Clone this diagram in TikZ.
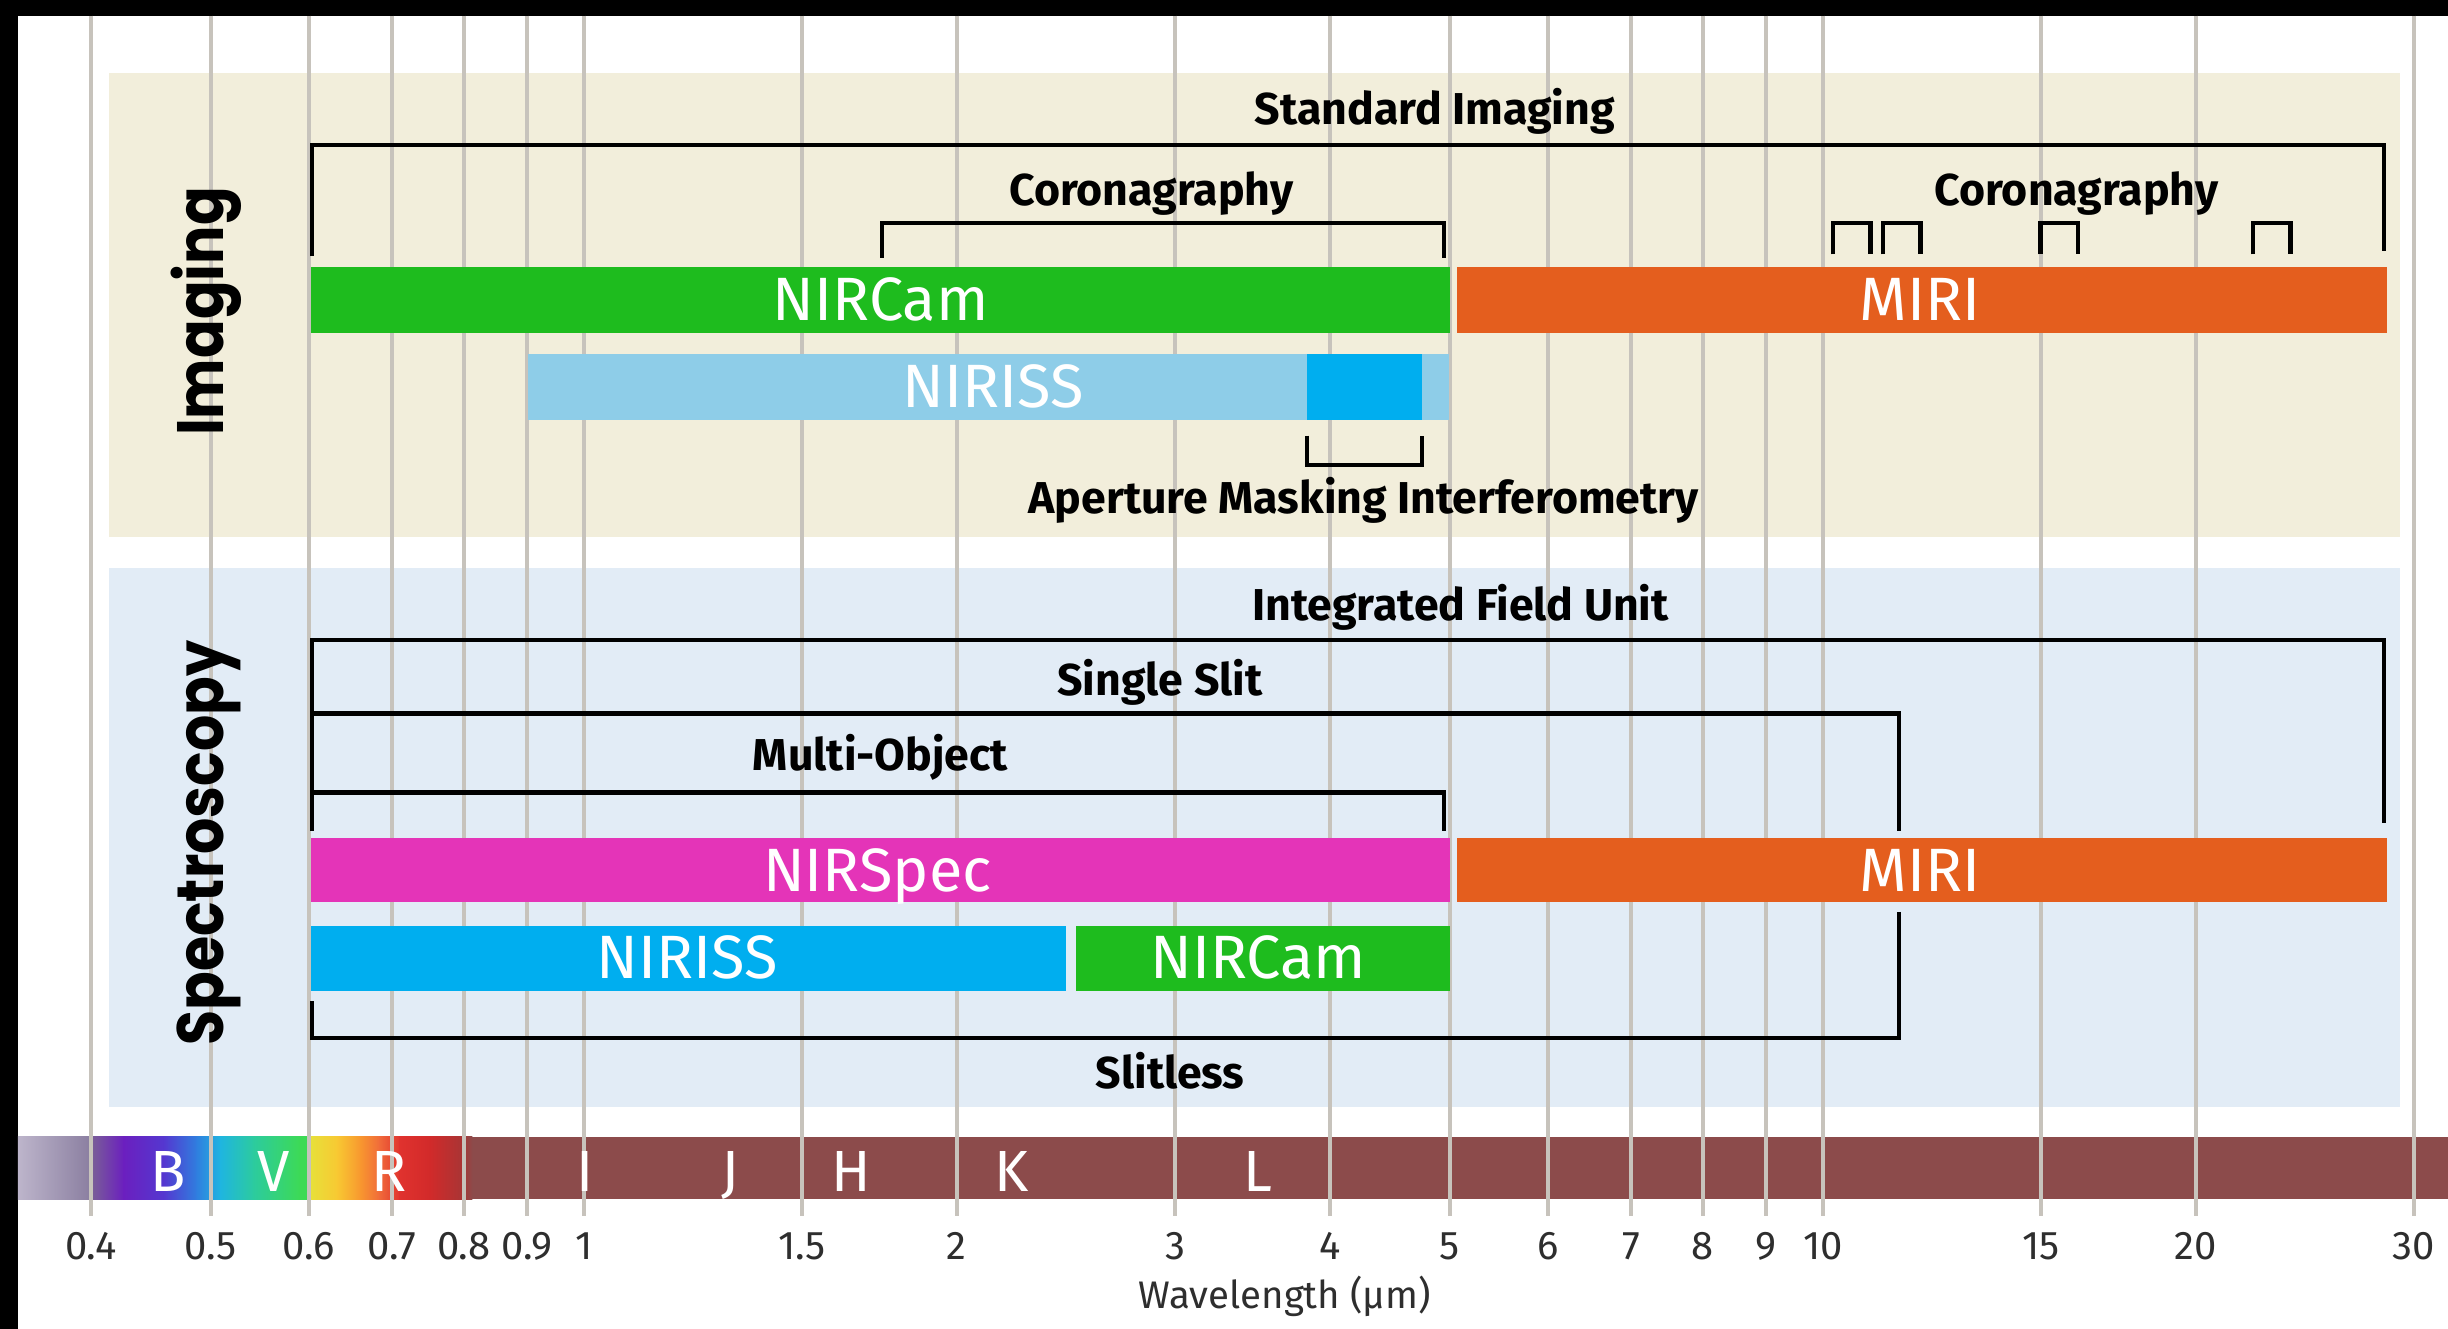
\documentclass[tikz,border=0pt]{standalone}
\usepackage{fontspec}
\setmainfont{Fira Sans}
\newfontfamily\sidefont{Poppins}[FakeStretch=0.87]

\definecolor{imgpanel}{HTML}{F2EEDB}
\definecolor{specpanel}{HTML}{E2ECF6}
\definecolor{gridgray}{HTML}{C7C3BC}
\definecolor{nircamgreen}{HTML}{1EBC1E}
\definecolor{miriorange}{HTML}{E45E1E}
\definecolor{nirisslight}{HTML}{8ECDE8}
\definecolor{nirissblue}{HTML}{00AEEF}
\definecolor{nirspecpink}{HTML}{E434B8}
\definecolor{bandred}{HTML}{8C4B4B}
\definecolor{labelgray}{HTML}{2E2E2E}
% colour stops of the visible spectrum
\definecolor{s1}{HTML}{BDB5CB}
\definecolor{s2}{HTML}{8A7EA0}
\definecolor{s3}{HTML}{7A6096}
\definecolor{s4}{HTML}{6B1FBF}
\definecolor{s5}{HTML}{5438D0}
\definecolor{s6}{HTML}{2F7FDF}
\definecolor{s7}{HTML}{1FB5E0}
\definecolor{s8}{HTML}{2CCB9F}
\definecolor{s9}{HTML}{3DDA55}
\definecolor{s10}{HTML}{E7E03A}
\definecolor{s11}{HTML}{F8C832}
\definecolor{s12}{HTML}{F8962F}
\definecolor{s13}{HTML}{F06A3A}
\definecolor{s14}{HTML}{E0322E}
\definecolor{s15}{HTML}{D22A2A}
\definecolor{s16}{HTML}{A83535}

% wavelength (micron) -> x position, log scale
\pgfmathdeclarefunction{wl}{1}{\pgfmathparse{374+793.6*log10(#1)}}

\begin{document}
\begin{tikzpicture}[x=0.5pt, y=-0.5pt,
  gridline/.style={draw=gridgray, line width=1.1pt},
  bracket/.style={draw=black, line width=1.4pt},
  barlabel/.style={anchor=base, text=white, font=\fontsize{19.6}{20}\selectfont},
  bandlabel/.style={anchor=base, text=white, font=\fontsize{18.6}{19}\selectfont},
  modelabel/.style={anchor=base, text=black, font=\bfseries\fontsize{14.3}{15}\selectfont},
  ticklabel/.style={anchor=base, text=labelgray, font=\fontsize{12.8}{13}\selectfont},
  sidelabel/.style={anchor=base, rotate=90, font=\sidefont\bfseries\fontsize{21}{22}\selectfont}]
\useasboundingbox (0,0) rectangle (1568,851);
\fill[black] (0,0) rectangle (1568,851);
\fill[white] (11.5,10) rectangle (1568,851);

% panels
\fill[imgpanel] (70,47) rectangle (1537,344);
\fill[specpanel] (70,364) rectangle (1537,709);

% photometric bands
\fill[bandred] (298,728) rectangle (1568,768);
\foreach \xa/\xb/\ca/\cb in {11.5/58/s1/s2, 58/79/s3/s4, 79/105/s4/s5, 105/126/s5/s6,
    126/141/s6/s7, 141/162/s7/s8, 162/192/s8/s9, 192/199/s9/s9, 199/216/s10/s11,
    216/231/s11/s12, 231/243/s12/s13, 243/256/s13/s14, 256/275/s14/s15,
    275/296/s15/s16, 296/302/s16/bandred}
  \shade[left color=\ca, right color=\cb] (\xa,728) rectangle ({\xb+0.6},768);

% wavelength grid
\foreach \w [count=\i] in {0.4,0.5,0.6,0.7,0.8,0.9,1,1.5,2,3,4,5,6,7,8,9,10,15,20,30} {
  \draw[gridline] ({wl(\w)},10) -- ({wl(\w)},779);
  \node[ticklabel] (tick\i) at ({wl(\w)},807) {\w};
}
\node[ticklabel, font=\fontsize{12.3}{13}\selectfont] (axis) at (823,838) {Wavelength (μm)};

\foreach \b/\x in {B/108, V/175, R/249, I/375, J/468, H/545, K/648, L/806}
  \node[bandlabel] (band\b) at (\x,763) {\b};

% imaging
\node[sidelabel] (imaging) at (143,199.5) {Imaging};
\draw[bracket] (200,164) -- (200,93) -- (1527,93) -- (1527,161);
\node[modelabel] (stdimg) at (919,80) {Standard Imaging};
\draw[bracket] (565,165) -- (565,143) -- (925,143) -- (925,165);
\node[modelabel] (corona1) at (737.5,131.5) {Coronagraphy};
\foreach \a/\b in {1174/1198, 1206/1230, 1307/1331, 1443/1467}
  \draw[bracket] (\a,163) -- (\a,143) -- (\b,143) -- (\b,163);
\node[modelabel] (corona2) at (1330,131.5) {Coronagraphy};
\draw[bracket] (837,279) -- (837,298) -- (911,298) -- (911,279);
\node[modelabel] (ami) at (873.5,329) {Aperture Masking Interferometry};

\fill[nircamgreen] (199,171) rectangle (929,213);
\fill[miriorange] (933,171) rectangle (1529,213);
\fill[nirisslight] (338,227) rectangle (928,269);
\fill[nirissblue] (837,227) rectangle (911,269);
\node[barlabel] (imgnircam) at (564,205) {NIRCam};
\node[barlabel] (imgmiri) at (1230,205) {MIRI};
\node[barlabel] (imgniriss) at (636,261) {NIRISS};

% spectroscopy
\node[sidelabel] (spectro) at (143,540) {Spectroscopy};
\draw[bracket] (200,532) -- (200,410) -- (1527,410) -- (1527,527);
\node[modelabel] (ifu) at (935.5,397.6) {Integrated Field Unit};
\draw[bracket] (200,457) -- (1216.5,457) -- (1216.5,532);
\node[modelabel] (slit) at (743,445.6) {Single Slit};
\draw[bracket] (200,507.5) -- (925,507.5) -- (925,532);
\node[modelabel] (mos) at (564,493.7) {Multi-Object};
\draw[bracket] (1216.5,584) -- (1216.5,665) -- (200,665) -- (200,641);
\node[modelabel] (slitless) at (749.5,697) {Slitless};

\fill[nirspecpink] (199,537) rectangle (929,578);
\fill[miriorange] (933,537) rectangle (1529,578);
\fill[nirissblue] (199,593) rectangle (683,635);
\fill[nircamgreen] (689,593) rectangle (929,635);
\node[barlabel] (specnirspec) at (562,571) {NIRSpec};
\node[barlabel] (specmiri) at (1230,571) {MIRI};
\node[barlabel] (specniriss) at (440,627) {NIRISS};
\node[barlabel] (specnircam) at (806,627) {NIRCam};
\end{tikzpicture}
\end{document}
